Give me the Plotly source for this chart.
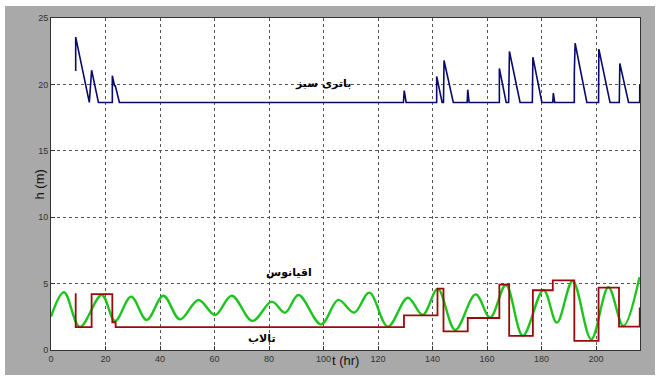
import plotly.graph_objects as go

# ---- data ----
battery_t = [9.06, 9.06, 14.06, 14.9, 17.4, 22.5, 22.5, 23.3, 23.6, 25.1, 129.3, 129.6, 130.3,
             141.5, 141.5, 143.5, 144.0, 144.2, 147.6, 152.7, 152.9, 153.4, 164.5, 164.5, 167.0,
             167.9, 168.2, 172.1, 176.6, 176.8, 180.1, 184.1, 184.3, 184.8, 192.0, 192.0, 192.3,
             196.6, 200.9, 201.0, 205.1, 208.5, 208.7, 211.9, 216.0, 216.0]
battery_h = [21.0, 23.56, 18.64, 21.07, 18.64, 18.64, 20.65, 19.9, 19.9, 18.64, 18.64, 19.54, 18.64,
             18.64, 20.6, 18.64, 18.64, 21.8, 18.64, 18.64, 19.6, 18.64, 18.64, 21.2, 18.64,
             18.64, 22.48, 18.64, 18.64, 22.05, 18.64, 18.64, 19.35, 18.64, 18.64, 20.85, 23.1,
             18.64, 18.64, 22.66, 18.64, 18.64, 21.58, 18.64, 18.64, 20.0]

ocean_t = [0, 4.77, 10.6, 18.6, 23.5, 29.4, 35.1, 41.2, 47.3, 54.1, 60.2, 66.3, 73.9, 81.0, 85.9,
           90.8, 99.1, 105.4, 111.2, 116.8, 123.6, 130.9, 136.4, 141.9, 148.3, 155.8, 161.1,
           166.9, 173.1, 180.7, 185.6, 191.4, 198.2, 204.5, 210.0, 215.9]
ocean_h = [2.51, 4.35, 1.73, 4.14, 2.19, 4.02, 2.26, 4.09, 2.31, 3.77, 2.64, 4.09, 2.19, 3.64, 2.81,
           4.14, 1.93, 3.77, 2.81, 4.32, 1.76, 3.94, 2.64, 4.6, 1.51, 4.19, 2.44,
           4.9, 1.08, 4.52, 2.06, 5.2, 0.8, 4.72, 1.81, 5.48]

pond_t = [9.06, 9.06, 14.9, 22.5, 23.7, 129.5, 141.8, 144.0, 152.9, 164.5, 168.1, 176.8, 184.1,
          192.0, 200.9, 208.4, 216.0]
pond_h = [4.27, 1.73, 4.2, 2.09, 1.73, 2.61, 4.62, 1.41, 2.41, 4.92, 1.06, 4.5, 5.25,
          0.68, 4.7, 1.76, 3.2]

x_ticks = [0, 20, 40, 60, 80, 100, 120, 140, 160, 180, 200]
y_ticks = [0, 5, 10, 15, 20, 25]

labels = ["باتری سبز", "اقیانوس", "تالاب"]
label_x = [99.8, 87.3, 77.4]
label_y = [20.05, 5.8, 0.9]

fig = go.Figure()
fig.add_trace(go.Scatter(x=ocean_t, y=ocean_h, mode="lines",
                         line=dict(color="#1ec41e", width=2.4, shape="spline", smoothing=1.0),
                         showlegend=False))
fig.add_trace(go.Scatter(x=pond_t, y=pond_h, mode="lines",
                         line=dict(color="#9a0a0a", width=1.8, shape="hv"),
                         showlegend=False))
fig.add_trace(go.Scatter(x=battery_t, y=battery_h, mode="lines",
                         line=dict(color="#0a0a6e", width=1.6),
                         showlegend=False))

W, H = 657, 378
L, R, T, B = 51, 17, 18, 28
pw, ph = W - L - R, H - T - B


def px(xp):
    return (xp - L) / pw


def py(yp):
    return (H - B - yp) / ph


# gray figure frame with thin white border
shapes = [
    dict(type="rect", xref="paper", yref="paper", x0=px(0), x1=px(5), y0=py(H), y1=py(0),
         fillcolor="white", line=dict(width=0), layer="above"),
    dict(type="rect", xref="paper", yref="paper", x0=px(655), x1=px(W), y0=py(H), y1=py(0),
         fillcolor="white", line=dict(width=0), layer="above"),
    dict(type="rect", xref="paper", yref="paper", x0=px(0), x1=px(W), y0=py(6), y1=py(0),
         fillcolor="white", line=dict(width=0), layer="above"),
    dict(type="rect", xref="paper", yref="paper", x0=px(0), x1=px(W), y0=py(H), y1=py(375),
         fillcolor="white", line=dict(width=0), layer="above"),
]

annotations = []
for txt, xv, yv in zip(labels, label_x, label_y):
    annotations.append(dict(x=xv, y=yv, xref="x", yref="y", text="<b>%s</b>" % txt,
                            showarrow=False, font=dict(family="DejaVu Sans", size=11, color="black")))
annotations.append(dict(x=px(345), y=py(370), xref="paper", yref="paper", text="t (hr)",
                        showarrow=False, font=dict(family="Liberation Sans", size=13, color="#111")))
annotations.append(dict(x=px(29), y=py(185), xref="paper", yref="paper", text="h (m)", textangle=-90,
                        showarrow=False, font=dict(family="Liberation Sans", size=13, color="#111")))

axis_common = dict(showline=True, mirror=True, linecolor="#333", linewidth=1,
                   showgrid=True, gridcolor="#555", griddash="dot", gridwidth=1,
                   ticks="inside", ticklen=4, tickcolor="#333", zeroline=False,
                   tickfont=dict(family="Liberation Sans", size=9, color="#333"))

fig.update_layout(
    width=W, height=H,
    margin=dict(l=L, r=R, t=T, b=B, pad=0),
    paper_bgcolor="#a9a9a9", plot_bgcolor="white",
    xaxis=dict(range=[0, 216.1], tickvals=x_ticks, **axis_common),
    yaxis=dict(range=[0, 25], tickvals=y_ticks, **axis_common),
    shapes=shapes, annotations=annotations,
)
fig.write_html("out.html", config={"displayModeBar": False},
               post_script="document.body.style.margin='0px';document.body.style.overflow='hidden';")
